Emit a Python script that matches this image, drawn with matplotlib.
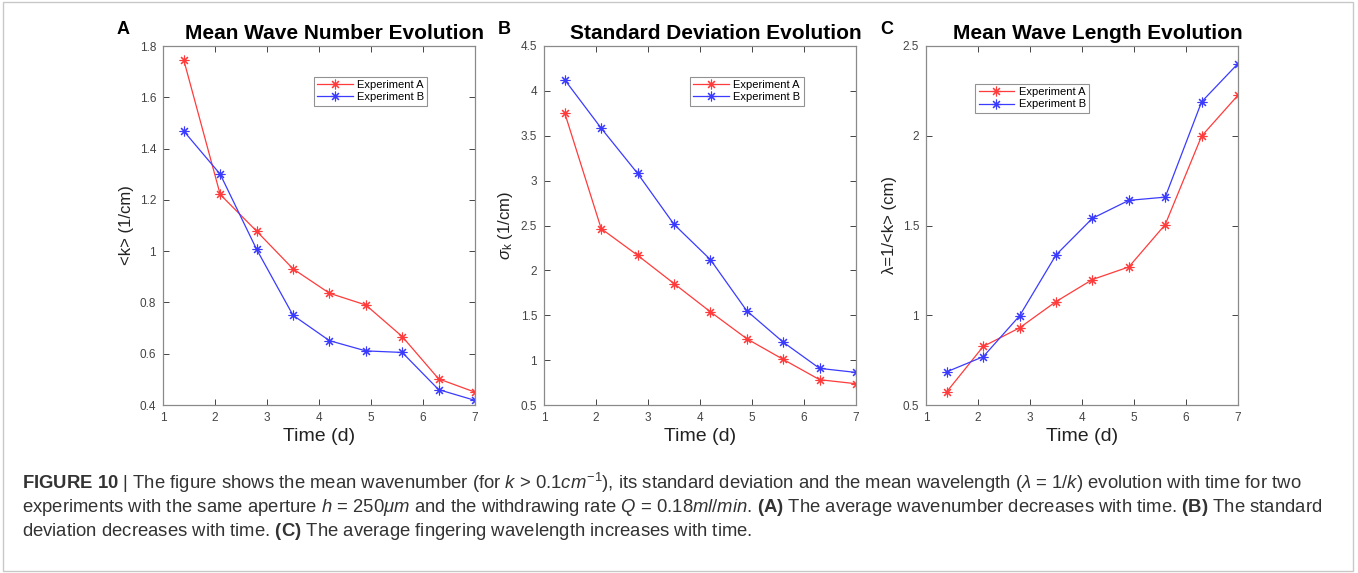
import numpy as np
import matplotlib
matplotlib.use('Agg')
import matplotlib.pyplot as plt
from matplotlib.patches import Rectangle
from matplotlib.ticker import FormatStrFormatter

plt.rcParams['font.family'] = ['Liberation Sans', 'DejaVu Sans']
plt.rcParams['mathtext.fontset'] = 'custom'
plt.rcParams['mathtext.rm'] = 'Liberation Sans'
plt.rcParams['mathtext.it'] = 'Liberation Sans:italic'
plt.rcParams['mathtext.bf'] = 'Liberation Sans:bold'

time_d = [1.4, 2.1, 2.8, 3.5, 4.2, 4.9, 5.6, 6.3, 7.0]

# mean wave number <k>
k_a = [1.745, 1.221, 1.078, 0.931, 0.836, 0.790, 0.667, 0.502, 0.450]
k_b = [1.468, 1.300, 1.007, 0.750, 0.651, 0.611, 0.605, 0.460, 0.418]

# standard deviation sigma_k
sd_a = [3.751, 2.465, 2.168, 1.853, 1.538, 1.238, 1.008, 0.782, 0.737]
sd_b = [4.122, 3.584, 3.080, 2.513, 2.120, 1.549, 1.200, 0.908, 0.863]

# mean wave length 1/<k>
wl_a = [0.574, 0.826, 0.930, 1.076, 1.199, 1.269, 1.505, 1.998, 2.226]
wl_b = [0.685, 0.769, 0.997, 1.336, 1.540, 1.640, 1.658, 2.189, 2.402]

series_labels = ['Experiment A', 'Experiment B']
panel_letters = ['A', 'B', 'C']
titles = ['Mean Wave Number Evolution', 'Standard Deviation Evolution',
          'Mean Wave Length Evolution']
ylabels = ['<k> (1/cm)', r'$\sigma_{\rm k}$ (1/cm)', 'λ=1/<k> (cm)']
ylims = [(0.4, 1.8), (0.5, 4.5), (0.5, 2.5)]
yticks = [np.arange(0.4, 1.81, 0.2), np.arange(0.5, 4.51, 0.5), np.arange(0.5, 2.51, 0.5)]

W, H = 1358, 573
fig = plt.figure(figsize=(W / 100, H / 100), dpi=100)

# light frame around whole figure
fig.patches.append(Rectangle((0.002, 0.004), 0.994, 0.992, transform=fig.transFigure,
                             fill=False, edgecolor='#c8c8c8', lw=1.0))

ax_left = [163, 544, 926]
ax_w = 312
top_px, bot_px = 46, 405
legend_boxes = [(0.465, 0.93), (0.45, 0.93), (0.14, 0.91)]

red = '#ff3b3b'
blue = '#3b3bff'
axcol = '#8a8a8a'
star = (8, 2, 0)

panels = [(k_a, k_b), (sd_a, sd_b), (wl_a, wl_b)]

for i, (ya, yb) in enumerate(panels):
    ax = fig.add_axes([ax_left[i] / W, 1 - bot_px / H, ax_w / W, (bot_px - top_px) / H])
    ax.plot(time_d, ya, color=red, lw=0.9, marker=star, ms=7, mew=0.8, label=series_labels[0])
    ax.plot(time_d, yb, color=blue, lw=0.9, marker=star, ms=7, mew=0.8, label=series_labels[1])
    ax.set_xlim(1, 7)
    ax.set_ylim(*ylims[i])
    ax.set_xticks(range(1, 8))
    ax.set_yticks(yticks[i])
    ax.yaxis.set_major_formatter(FormatStrFormatter('%g'))
    ax.tick_params(direction='in', top=True, right=True, length=4, width=0.7,
                   colors='#444444', labelsize=8.5, pad=5)
    for s in ax.spines.values():
        s.set_color(axcol)
        s.set_linewidth(0.9)
    ax.set_xlabel('Time (d)', fontsize=14, color='#222222', labelpad=3)
    ax.set_ylabel(ylabels[i], fontsize=12, color='#222222', labelpad=4)
    ax.set_title(titles[i], fontsize=15, fontweight='bold', pad=5, x=0.55)
    fig.text((ax_left[i] - 46) / W, 1 - 30 / H, panel_letters[i], fontsize=13,
             fontweight='bold', ha='left', va='center')
    leg = ax.legend(loc='upper left', bbox_to_anchor=legend_boxes[i], fontsize=8,
                    frameon=True, fancybox=False, edgecolor='#777777',
                    handlelength=3.2, borderpad=0.3, labelspacing=0.2, handletextpad=0.4)
    leg.get_frame().set_linewidth(0.8)

cap_x = 22 / W
cap_fs = 13.3
line1 = (r"$\bf{FIGURE\ 10}$ | The figure shows the mean wavenumber (for $k$ > 0.1$cm^{-1}$), "
         r"its standard deviation and the mean wavelength ($\lambda$ = 1/$k$) evolution with time for two")
line2 = (r"experiments with the same aperture $h$ = 250$\mu m$ and the withdrawing rate $Q$ = 0.18$ml/min$. "
         r"$\bf{(A)}$ The average wavenumber decreases with time. $\bf{(B)}$ The standard")
line3 = r"deviation decreases with time. $\bf{(C)}$ The average fingering wavelength increases with time."
for j, line in enumerate([line1, line2, line3]):
    fig.text(cap_x, 1 - (483 + 24 * j) / H, line, fontsize=cap_fs, color='#333333',
             ha='left', va='center')

fig.savefig('out.png', dpi=100)
